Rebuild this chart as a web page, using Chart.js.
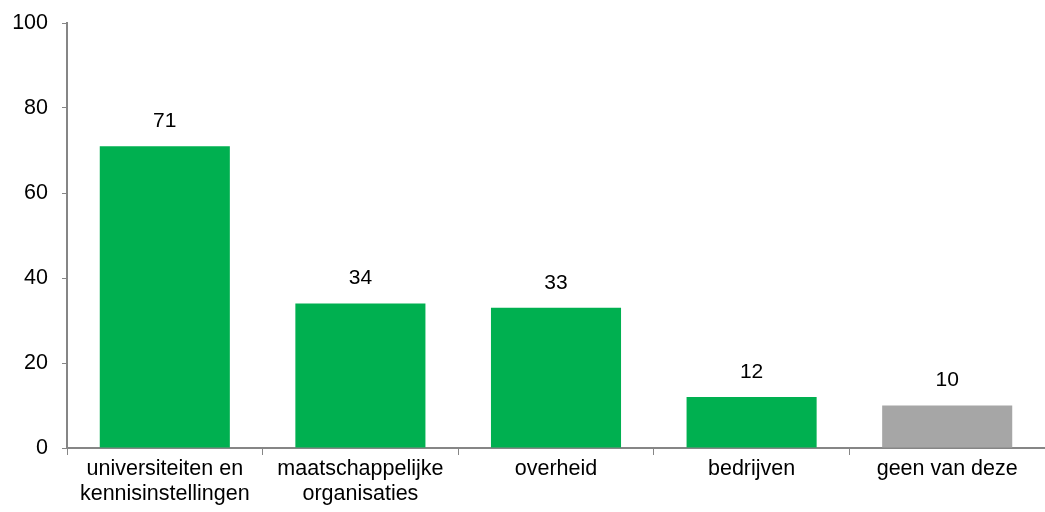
<!DOCTYPE html>
<html><head><meta charset="utf-8">
<script src="https://cdn.jsdelivr.net/npm/chart.js@4/dist/chart.umd.min.js"></script>
<style>html,body{margin:0;padding:0;background:#fff}#w{width:1045px;height:512px}</style>
</head><body><div id="w"><canvas id="c"></canvas></div>
<script>
const categories = [["universiteiten en","kennisinstellingen"],["maatschappelijke","organisaties"],"overheid","bedrijven","geen van deze"];
const values = [71, 34, 33, 12, 10];
const barColors = ["#00B050","#00B050","#00B050","#00B050","#A6A6A6"];
const yTicks = [0, 20, 40, 60, 80, 100];

const FONT = "'Liberation Sans', Arial, sans-serif";
const valueLabels = {
  id: 'valueLabels',
  afterDatasetsDraw(chart) {
    const ctx = chart.ctx;
    const meta = chart.getDatasetMeta(0);
    ctx.save();
    ctx.font = "21px " + FONT;
    ctx.fillStyle = "#000";
    ctx.textAlign = "center";
    ctx.textBaseline = "middle";
    meta.data.forEach((el, i) => {
      ctx.fillText(String(values[i]), el.x, el.y - 25);
    });
    ctx.restore();
  }
};

new Chart(document.getElementById('c'), {
  type: 'bar',
  data: { labels: categories, datasets: [{ data: values, backgroundColor: barColors, barPercentage: 0.665, categoryPercentage: 1 }] },
  options: {
    responsive: true, maintainAspectRatio: false, animation: false,
    layout: { padding: { left: 0, right: 0, top: 23, bottom: 0 } },
    plugins: { legend: { display: false }, tooltip: { enabled: false } },
    scales: {
      x: {
        grid: { display: true, drawOnChartArea: false, color: "#868686", tickLength: 7, offset: true },
        border: { display: true, color: "#868686", width: 2 },
        ticks: { color: "#000", font: { size: 21.5, family: FONT, lineHeight: 1.15 }, padding: 2, maxRotation: 0, autoSkip: false },
        afterFit(s) { s.height = 64; s.paddingLeft = 0; s.paddingRight = 0; }
      },
      y: {
        min: 0, max: 100,
        afterBuildTicks(s) { s.ticks = yTicks.map(v => ({ value: v })); },
        grid: { display: true, drawOnChartArea: false, color: "#868686", tickLength: 5 },
        border: { display: true, color: "#868686", width: 2 },
        ticks: { color: "#000", font: { size: 21.5, family: FONT }, padding: 14 },
        afterFit(s) { s.width = 67; s.paddingTop = 0; s.paddingBottom = 0; }
      }
    }
  },
  plugins: [valueLabels]
});
</script></body></html>
